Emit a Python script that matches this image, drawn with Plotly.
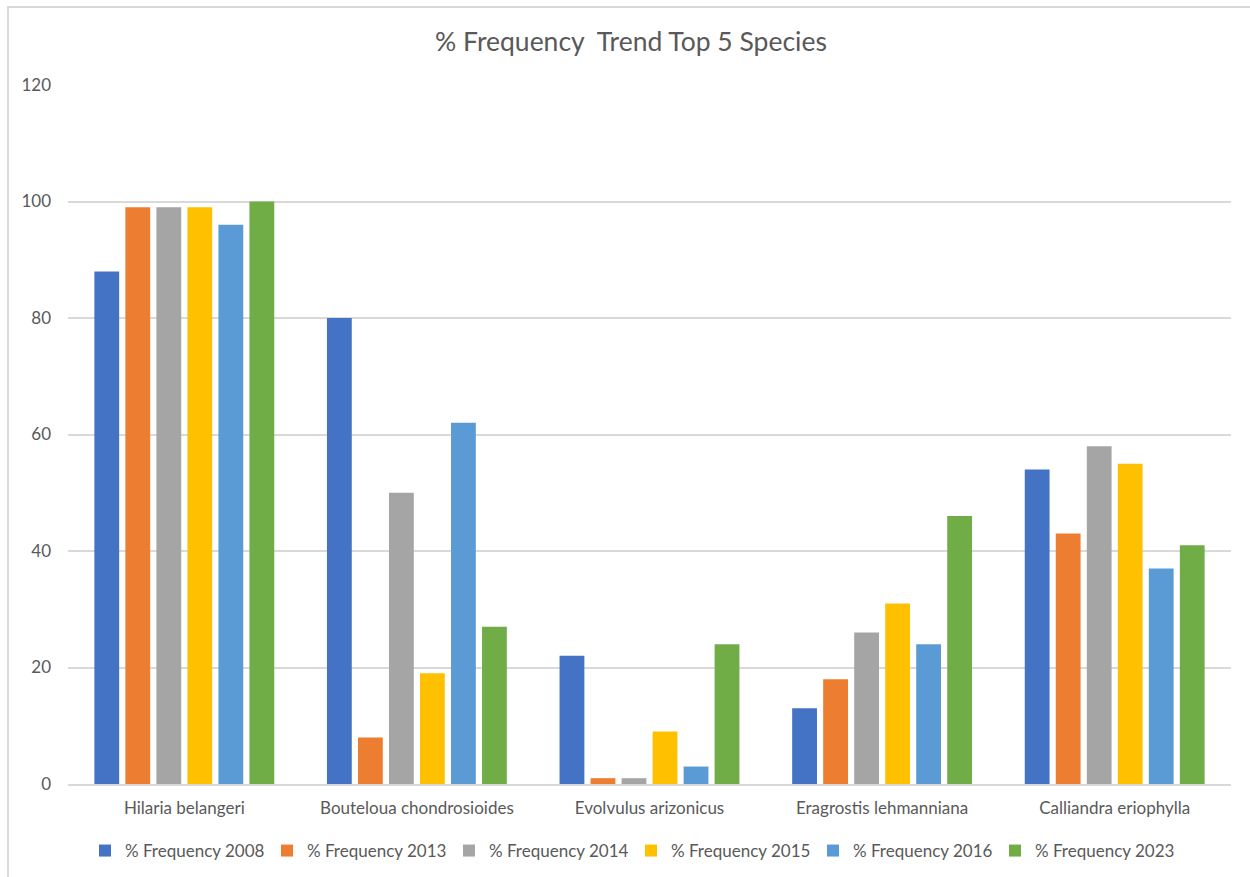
import plotly.graph_objects as go

species = ["Hilaria belangeri", "Bouteloua chondrosioides", "Evolvulus arizonicus",
           "Eragrostis lehmanniana", "Calliandra eriophylla"]

freq_2008 = [88, 80, 22, 13, 54]
freq_2013 = [99, 8, 1, 18, 43]
freq_2014 = [99, 50, 1, 26, 58]
freq_2015 = [99, 19, 9, 31, 55]
freq_2016 = [96, 62, 3, 24, 37]
freq_2023 = [100, 27, 24, 46, 41]

series_names = ["% Frequency 2008", "% Frequency 2013", "% Frequency 2014",
                "% Frequency 2015", "% Frequency 2016", "% Frequency 2023"]
series_values = [freq_2008, freq_2013, freq_2014, freq_2015, freq_2016, freq_2023]
colors = ["#4472C4", "#ED7D31", "#A5A5A5", "#FFC000", "#5B9BD5", "#70AD47"]

y_ticks = [0, 20, 40, 60, 80, 100, 120]

W, H = 1250, 877
L, R, T, B = 68, 19, 85, 93
pw, ph = W - L - R, H - T - B

FONT = "Lato, 'Open Sans', sans-serif"
TXT = "#595959"

fig = go.Figure()
for name, vals, col in zip(series_names, series_values, colors):
    fig.add_trace(go.Bar(
        x=species, y=vals, name=name,
        marker=dict(color=col, line=dict(width=0)),
    ))

# outer chart frame (left and top edges visible)
fx0 = (8 - L) / pw
fy1 = 1 + (T - 7) / ph
fig.add_shape(type="rect", xref="paper", yref="paper",
              x0=fx0, x1=1.2, y0=-0.3, y1=fy1,
              line=dict(color="#d9d9d9", width=2), fillcolor="rgba(0,0,0,0)", layer="below")

fig.update_layout(
    width=W, height=H,
    margin=dict(l=L, r=R, t=T, b=B, autoexpand=False),
    paper_bgcolor="white", plot_bgcolor="white",
    barmode="group", bargap=0.2, bargroupgap=0.2,
    font=dict(family=FONT, color=TXT, size=17),
    title=dict(text="% Frequency  Trend Top 5 Species", x=631 / W, xanchor="center",
               y=1 - 42 / H, yanchor="middle",
               font=dict(family=FONT, size=26.5, color=TXT)),
    xaxis=dict(showgrid=False, showline=True, linecolor="#d9d9d9", linewidth=1.5,
               ticks="", tickfont=dict(size=17, color=TXT), ticklabelstandoff=8,
               automargin=False),
    yaxis=dict(range=[0, 120], tickvals=y_ticks, showgrid=True, gridcolor="#d9d9d9",
               gridwidth=1.5, zeroline=False, showline=False, ticks="",
               tickfont=dict(size=17, color=TXT), ticklabelstandoff=16,
               automargin=False),
    legend=dict(orientation="h", x=(101 - 16) / W, xanchor="left", xref="container",
                y=1 - 851 / H, yanchor="middle", yref="container",
                font=dict(size=17, color=TXT), entrywidth=137, traceorder="normal"),
)

fig.write_html("out.html")
